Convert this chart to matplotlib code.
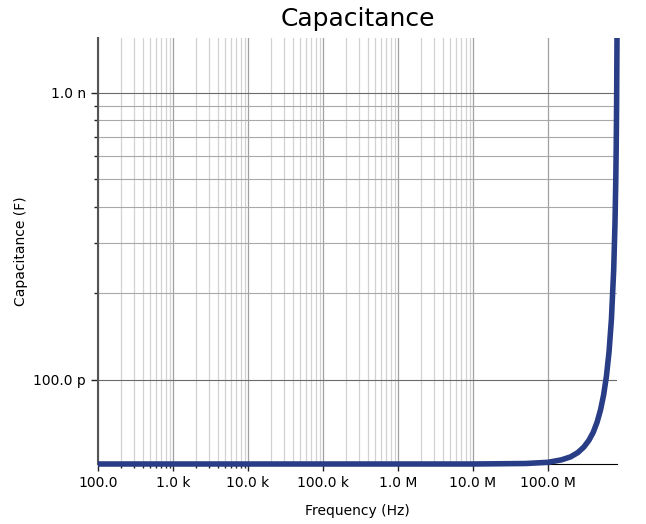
import matplotlib
matplotlib.use('Agg')
import matplotlib.pyplot as plt
from matplotlib.ticker import FixedLocator, FuncFormatter, NullFormatter

# values
freq_hz = [100, 1e3, 1e4, 1e5, 1e6, 1e7, 5e7, 1e8, 1.5e8, 2e8, 2.5e8, 3e8,
           3.5e8, 4e8, 4.5e8, 5e8, 5.5e8, 6e8, 6.5e8, 7e8, 7.5e8, 7.8e8,
           8e8, 8.1e8, 8.2e8, 8.3e8]
cap_pf = [50.8, 50.8, 50.8, 50.8, 50.8, 50.8, 51.0, 51.5, 52.5, 53.8, 55.7, 58.2,
          61.4, 65.5, 71.0, 78.3, 88.3, 102.7, 124.9, 162.8, 241.6, 348.2,
          500.5, 644.0, 907.0, 1549.0]
cap_f = [c * 1e-12 for c in cap_pf]

x_major = [1e2, 1e3, 1e4, 1e5, 1e6, 1e7, 1e8]
y_major = [1e-10, 1e-9]


def eng(v, pos=None):
    prefixes = [(1e6, 'M'), (1e3, 'k'), (1, ''), (1e-9, 'n'), (1e-12, 'p')]
    for scale, p in prefixes:
        if v >= scale * 0.999:
            s = '%.1f' % (v / scale)
            return s + (' ' + p if p else '')
    return '%.1f' % v


fig = plt.figure(figsize=(6.46, 5.24), dpi=100)
ax = fig.add_axes([98 / 646, 1 - 464 / 524, (617 - 98) / 646, (464 - 38) / 524])

ax.plot(freq_hz, cap_f, color='#283d85', lw=4.0, zorder=5, clip_on=False,
        solid_capstyle='butt')
ax.set_xscale('log')
ax.set_yscale('log')
ax.set_xlim(min(freq_hz), max(freq_hz))
ax.set_ylim(min(cap_f), max(cap_f))

ax.xaxis.set_major_locator(FixedLocator(x_major))
ax.yaxis.set_major_locator(FixedLocator(y_major))
ax.xaxis.set_major_formatter(FuncFormatter(eng))
ax.yaxis.set_major_formatter(FuncFormatter(eng))

x_minor = [d * k for d in [1e2, 1e3, 1e4, 1e5, 1e6] for k in range(2, 10)]
y_minor = [1e-10 * k for k in range(2, 10)]
ax.xaxis.set_minor_locator(FixedLocator(x_minor))
ax.yaxis.set_minor_locator(FixedLocator(y_minor))
ax.xaxis.set_minor_formatter(NullFormatter())
ax.yaxis.set_minor_formatter(NullFormatter())

ax.grid(True, which='major', axis='x', color='#a0a0a0', lw=0.9)
ax.grid(True, which='minor', axis='x', color='#d2d2d2', lw=0.9)
ax.grid(True, which='major', axis='y', color='#6a6a6a', lw=0.8)
ax.grid(True, which='minor', axis='y', color='#a8a8a8', lw=0.8)

# minor tick marks only in the first two decades
for t in ax.xaxis.get_minor_ticks()[16:]:
    t.tick1line.set_visible(False)

ax.tick_params(which='major', length=5, width=1, labelsize=10, color='#222222')
ax.tick_params(which='minor', length=3, width=1, color='#222222')

for s in ['top', 'right']:
    ax.spines[s].set_visible(False)
ax.spines['left'].set_color('#555555')
ax.spines['left'].set_linewidth(1.5)
ax.spines['bottom'].set_color('black')

ax.set_title('Capacitance', fontsize=18, pad=9)
ax.set_xlabel('Frequency (Hz)', fontsize=10, labelpad=10)
ax.set_ylabel('Capacitance (F)', fontsize=10, labelpad=4)

plt.savefig('out.png', dpi=100)
plt.close()
